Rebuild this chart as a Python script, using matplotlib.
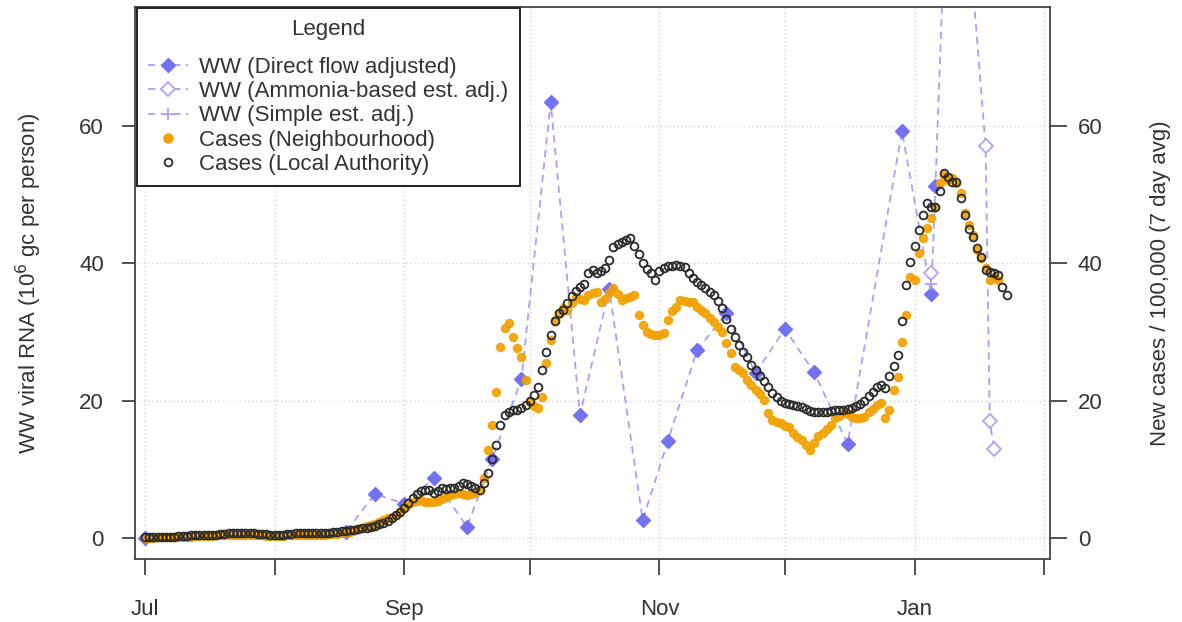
import numpy as np
import matplotlib
matplotlib.use("Agg")
import matplotlib.pyplot as plt
from matplotlib.lines import Line2D

plt.rcParams['font.family'] = ['Liberation Sans', 'DejaVu Sans']

# ---------------- data (x = days since 1 Jul) ----------------
month_days = [0, 31, 62, 92, 123, 153, 184, 215]
month_labels = ['Jul', '', 'Sep', '', 'Nov', '', 'Jan', '']
y_ticks = [0, 20, 40, 60]

# Cases (Local Authority), daily from day 0
cases_la = [
    0.1, 0.1, 0.1, 0.2, 0.2, 0.2, 0.2, 0.2, 0.3, 0.3,
    0.3, 0.4, 0.4, 0.4, 0.5, 0.5, 0.5, 0.5, 0.6, 0.6,
    0.7, 0.7, 0.8, 0.8, 0.8, 0.7, 0.7, 0.6, 0.6, 0.6,
    0.5, 0.5, 0.5, 0.5, 0.6, 0.6, 0.7, 0.7, 0.8, 0.8,
    0.8, 0.7, 0.7, 0.8, 0.8, 0.9, 0.9, 1.0, 1.0, 1.1,
    1.2, 1.3, 1.4, 1.5, 1.6, 1.8, 2.0, 2.2, 2.5, 2.9,
    3.3, 3.8, 4.4, 5.1, 5.8, 6.4, 6.8, 7.0, 7.0, 6.5,
    6.9, 7.3, 7.2, 7.3, 7.3, 7.6, 8.0, 7.8, 7.5, 7.3,
    7.0, 8.0, 9.5, 11.5, 13.5, 16.5, 17.9, 18.3, 18.6, 18.6,
    18.9, 19.4, 20.0, 20.8, 22.0, 24.5, 27.0, 29.5, 31.5, 32.7,
    33.2, 34.2, 35.2, 35.9, 36.5, 36.9, 38.5, 39.0, 38.5, 38.8,
    39.3, 40.5, 42.3, 42.7, 43.0, 43.3, 43.6, 42.5, 41.3, 40.0,
    39.1, 38.5, 37.5, 38.8, 39.3, 39.5, 39.6, 39.7, 39.6, 39.4,
    38.5, 37.8, 37.3, 36.8, 36.3, 35.8, 35.3, 34.5, 33.5, 31.9,
    30.4, 29.3, 28.1, 27.0, 26.3, 25.2, 24.4, 23.6, 22.8, 22.0,
    21.1, 20.5, 20.0, 19.7, 19.5, 19.3, 19.2, 19.1, 18.8, 18.5,
    18.3, 18.3, 18.3, 18.4, 18.5, 18.6, 18.6, 18.6, 18.7, 18.9,
    19.2, 19.5, 20.0, 20.6, 21.3, 22.0, 22.3, 21.8, 23.5, 25.0,
    26.6, 31.5, 36.8, 40.1, 42.5, 44.8, 47.0, 48.7, 48.1, 48.1,
    50.5, 53.1, 52.5, 51.8, 51.8, 49.5, 47.0, 45.0, 43.8, 42.2,
    40.9, 39.0, 38.7, 38.5, 38.3, 36.5, 35.3]

# Cases (Neighbourhood), daily from day 0
cases_nb = [
    0.0, 0.0, 0.0, 0.1, 0.1, 0.1, 0.1, 0.1, 0.2, 0.2,
    0.2, 0.2, 0.3, 0.3, 0.3, 0.3, 0.3, 0.4, 0.4, 0.4,
    0.4, 0.5, 0.5, 0.5, 0.5, 0.4, 0.4, 0.4, 0.4, 0.3,
    0.3, 0.3, 0.3, 0.3, 0.4, 0.4, 0.4, 0.4, 0.5, 0.5,
    0.5, 0.5, 0.5, 0.5, 0.6, 0.6, 0.6, 0.7, 0.8, 0.9,
    1.1, 1.3, 1.5, 1.7, 1.9, 2.1, 2.3, 2.6, 2.9, 3.1,
    3.3, 3.8, 4.3, 4.8, 5.2, 5.4, 5.5, 5.3, 5.2, 5.2,
    5.4, 5.7, 6.0, 6.3, 6.4, 6.5, 6.4, 6.3, 6.4, 6.5,
    7.0, 8.7, 12.8, 16.4, 21.2, 27.8, 30.5, 31.3, 29.2, 27.6,
    26.3, 23.0, 19.8, 19.2, 18.9, 20.5, 25.5, 28.8, 31.7, 32.6,
    33.5, 33.2, 34.2, 35.1, 34.8, 34.6, 35.3, 35.6, 35.8, 34.3,
    34.8, 35.6, 36.4, 35.5, 34.6, 34.9, 35.1, 35.3, 32.4, 31.0,
    30.0, 29.7, 29.5, 29.6, 29.8, 31.7, 33.0, 33.6, 34.6, 34.5,
    34.4, 34.3, 33.6, 33.2, 32.7, 32.0, 31.4, 30.7, 30.0, 28.4,
    26.9, 24.9, 24.4, 24.0, 23.0, 22.3, 21.5, 20.9, 20.1, 18.2,
    17.2, 16.9, 16.7, 16.3, 16.1, 15.3, 14.7, 14.3, 13.5, 12.8,
    13.8, 14.8, 15.3, 15.8, 16.5, 17.4, 17.8, 18.2, 18.0, 17.6,
    17.4, 17.5, 17.6, 18.3, 18.8, 19.3, 19.6, 17.4, 18.6, 21.5,
    23.4, 28.5, 32.4, 38.0, 37.5, 41.5, 43.6, 45.1, 46.5, 48.1,
    51.6, 52.8, 52.1, 52.4, 51.6, 50.2, 47.3, 45.5, 44.1, 41.9,
    40.7, 39.3, 37.5, 38.0, 37.5]

# Wastewater (Direct flow adjusted)
ww_direct_days = [0, 48, 55, 62, 69, 77, 83, 90, 97, 104, 111, 119, 125,
                  132, 139, 146, 153, 160, 168, 181, 188, 189, 193]
ww_direct_vals = [0.0, 0.9, 6.4, 5.0, 8.7, 1.6, 11.5, 23.1, 63.4, 17.9, 36.2,
                  2.6, 14.1, 27.3, 32.7, 24.0, 30.4, 24.1, 13.7, 59.2, 35.5,
                  51.2, 118.0]

# Wastewater (Ammonia-based est. adj.)
ww_ammonia_days = [188, 189, 193, 201, 202, 203]
ww_ammonia_vals = [38.5, np.nan, 118.0, 57.0, 17.0, 13.0]

# Wastewater (Simple est. adj.)
ww_simple_days = [188]
ww_simple_vals = [37.0]

la_days = np.arange(len(cases_la))
nb_days = np.arange(len(cases_nb))

# ---------------- styling ----------------
TXT = '#333333'
AXC = '#444444'
ORANGE = '#F2A100'
BLUE_M = '#7272F2'
BLUE_L = '#A3A3FA'
FS = 16

fig = plt.figure(figsize=(11.82, 6.22), dpi=100)
ax = fig.add_axes([135/1182, 1-559/622, (1050-135)/1182, (559-7)/622])

ax.set_xlim(-2.4, 216.4)
ax.set_ylim(-3.05, 77.24)

# grid
for d in month_days:
    ax.axvline(d, color='#d4d4d4', lw=1.0, ls=(0, (1, 2)), zorder=0)
for v in y_ticks:
    ax.axhline(v, color='#d4d4d4', lw=1.0, ls=(0, (1, 2)), zorder=0)

# wastewater series
ax.plot(ww_direct_days, ww_direct_vals, ls=(0, (4, 3)), color=BLUE_L, lw=1.3,
        marker='D', ms=7, mfc=BLUE_M, mec=BLUE_M, zorder=2)
ax.plot(ww_ammonia_days, ww_ammonia_vals, ls=(0, (4, 3)), color=BLUE_L, lw=1.3,
        marker='D', ms=7, mfc='white', mec='#A8A8FA', mew=1.3, zorder=2)
ax.plot(ww_simple_days, ww_simple_vals, ls='none', color=BLUE_L,
        marker='+', ms=8, mew=1.3, zorder=2)

# cases
ax.plot(nb_days, cases_nb, ls='none', marker='o', ms=5.8, mfc=ORANGE,
        mec=ORANGE, alpha=0.9, zorder=3)
ax.plot(la_days, cases_la, ls='none', marker='o', ms=5.6, mfc='none',
        mec='#2a2a2a', mew=1.3, zorder=4)

# axes
for s in ax.spines.values():
    s.set_color(AXC)
    s.set_linewidth(1.3)

ax.set_xticks(month_days)
ax.set_xticklabels(month_labels, fontsize=FS, color=TXT)
ax.tick_params(axis='x', length=11.5, width=1.3, color=AXC, pad=17)
ax.set_yticks(y_ticks)
ax.set_yticklabels([str(v) for v in y_ticks], fontsize=FS, color=TXT)
ax.tick_params(axis='y', length=9.5, width=1.3, color=AXC, pad=13)
ax.set_ylabel(r'WW viral RNA (10$^6$ gc per person)', fontsize=FS, color=TXT,
              labelpad=25)

ax2 = ax.twinx()
ax2.set_ylim(ax.get_ylim())
ax2.set_yticks(y_ticks)
ax2.set_yticklabels([str(v) for v in y_ticks], fontsize=FS, color=TXT)
ax2.tick_params(axis='y', length=12, width=1.3, color=AXC, pad=8)
for s in ax2.spines.values():
    s.set_visible(False)
ax2.set_ylabel('New cases / 100,000 (7 day avg)', fontsize=FS, color=TXT,
               labelpad=34)

# legend
handles = [
    Line2D([], [], ls=(0, (4, 3)), color=BLUE_L, lw=1.3, marker='D', ms=7,
           mfc=BLUE_M, mec=BLUE_M),
    Line2D([], [], ls=(0, (4, 3)), color=BLUE_L, lw=1.3, marker='D', ms=7,
           mfc='white', mec='#A8A8FA', mew=1.3),
    Line2D([], [], ls=(0, (4, 3)), color=BLUE_L, lw=1.3, marker='+', ms=8,
           mew=1.3),
    Line2D([], [], ls='none', marker='o', ms=6.5, mfc=ORANGE, mec=ORANGE),
    Line2D([], [], ls='none', marker='o', ms=5.6, mfc='none', mec='#2a2a2a',
           mew=1.3),
]
labels = ['WW (Direct flow adjusted)', 'WW (Ammonia-based est. adj.)',
          'WW (Simple est. adj.)', 'Cases (Neighbourhood)',
          'Cases (Local Authority)']
leg = ax.legend(handles, labels, title='Legend', loc='upper left',
                bbox_to_anchor=(137/1182, 1-8/622),
                bbox_transform=fig.transFigure, borderaxespad=0,
                fontsize=FS, title_fontsize=FS, frameon=True, fancybox=False,
                framealpha=1, edgecolor='#222222', handlelength=1.8,
                handletextpad=0.5, labelspacing=0.15, borderpad=0.5)
leg._legend_box.sep = 12
leg.get_frame().set_linewidth(1.4)
leg.set_zorder(10)
for t in leg.get_texts():
    t.set_color(TXT)
leg.get_title().set_color(TXT)

fig.savefig('out.png', dpi=100)
